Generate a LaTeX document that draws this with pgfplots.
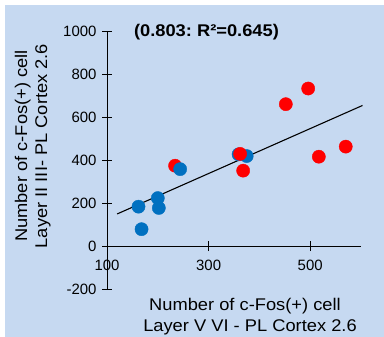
\documentclass[border=0pt]{standalone}
\usepackage{pgfplots}
\pgfplotsset{compat=1.18}
\usepackage{fontspec}
\setmainfont{Liberation Sans}
\newfontfamily\widefont[FakeStretch=1.08]{Liberation Sans}
\definecolor{bgblue}{HTML}{C6D9F1}
\definecolor{ptblue}{HTML}{0070C0}
\definecolor{ptred}{HTML}{FF0000}
\begin{document}
\begin{tikzpicture}[x=1bp,y=1bp]
\path[use as bounding box] (0,0) rectangle (384,337);
\fill[bgblue] (5,0) rectangle (384,332);
\begin{axis}[
  at={(107bp,48bp)}, anchor=south west,
  scale only axis, width=254bp, height=257.3bp,
  xmin=100, xmax=600, ymin=-200, ymax=1000,
  axis x line=middle, axis y line=left,
  axis line style={-, black, line width=0.9pt},
  every outer y axis line/.append style={-},
  every inner x axis line/.append style={-},
  hide obscured x ticks=false,
  xtick={100,300,500}, ytick={-200,0,200,400,600,800,1000},
  tick align=center, major tick length=10bp,
  tick style={black, line width=0.9pt},
  ticklabel style={font=\fontsize{15}{18}\selectfont},
  /pgf/number format/assume math mode=true,
  /pgf/number format/1000 sep={},
  xticklabel style={yshift=-5bp},
  yticklabel style={xshift=-2bp},
  clip=false,
]
\addplot[black, line width=1.1pt, no marks] coordinates {(120,150) (603,656)};
% blue points lying under red
\addplot[only marks, mark=*, mark size=6.6bp, color=ptblue] coordinates {
(359,428) (375,420)};
% red points
\addplot[only marks, mark=*, mark size=6.6bp, color=ptred] coordinates {
(452,662) (496,735) (570,464) (517,417) (368,352) (362,430) (234,375)};
% blue points on top
\addplot[only marks, mark=*, mark size=6.6bp, color=ptblue] coordinates {
(244,359) (200,224) (202,178) (162,184) (168,79)};
\end{axis}
\node[anchor=base, font=\widefont\bfseries\fontsize{17}{20}\selectfont] at (206.5,300.3) {(0.803:\ R²=0.645)};
\node[anchor=base, font=\widefont\fontsize{17}{20}\selectfont] at (245,27) {Number of c-Fos(+) cell};
\node[anchor=base, font=\widefont\fontsize{17}{20}\selectfont] at (250,5.3) {Layer V VI - PL Cortex 2.6};
\node[anchor=base, rotate=90, font=\widefont\fontsize{17}{20}\selectfont] at (27,191) {Number of c-Fos(+) cell};
\node[anchor=base, rotate=90, font=\widefont\fontsize{17}{20}\selectfont] at (47,191) {Layer II III- PL Cortex 2.6};
\end{tikzpicture}
\end{document}
